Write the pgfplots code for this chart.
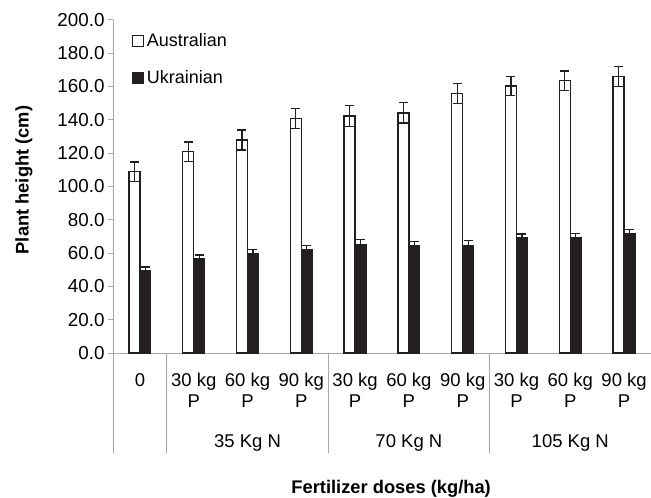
\documentclass[border=0pt]{standalone}
\usepackage{fontspec}
\setmainfont{Liberation Sans}
\usepackage{pgfplots}
\pgfplotsset{compat=1.18}
\definecolor{barblack}{HTML}{231F20}
\definecolor{axgray}{HTML}{A8A8A8}

\begin{document}
\begin{tikzpicture}
\path[use as bounding box] (-113pt,-145pt) rectangle (538pt,353pt);
\begin{axis}[
    at={(0,0)}, anchor=south west,
    scale only axis,
    width=538pt, height=333.3pt,
    xmin=-0.5, xmax=9.5,
    ymin=0, ymax=200,
    axis x line=bottom, axis y line=left,
    axis line style={-, axgray, line width=0.8pt},
    xtick=\empty,
    ytick={0,20,...,200},
    tick style={axgray, line width=0.8pt},
    major tick length=5pt,
    tick align=outside,
    tick label style={font=\fontsize{18.8}{21}\selectfont},
    yticklabel style={anchor=east},
    /pgf/number format/.cd, fixed, fixed zerofill, precision=1, assume math mode=true,
    /pgfplots/.cd,
    ybar=0pt, bar width=11pt,
    clip=false,
    legend style={at={(0,1)}, anchor=north west, xshift=19pt, yshift=-11pt,
        draw=none, fill=none, font=\fontsize{18}{21}\selectfont,
        row sep=18pt, inner sep=0pt, nodes={inner sep=2.5pt}},
    legend cell align=left,
    legend image code/.code={\draw[#1, line width=1.2pt] (0pt,-5.5pt) rectangle (11pt,5.5pt);},
]
\addplot[draw=barblack, fill=white, line width=1.5pt,
    error bars/.cd, y dir=both, y explicit,
    error bar style={barblack, line width=1.1pt},
    error mark options={rotate=90, mark size=4.5pt, barblack, line width=1.1pt}]
    table[x=x, y=y, y error=e] {
x y e
0 108.8 5.8
1 120.8 5.8
2 127.8 6.0
3 140.6 6.0
4 142.3 6.2
5 144.1 6.1
6 155.7 6.1
7 160.2 5.9
8 163.4 5.8
9 166.0 6.0
};
\addplot[draw=barblack, fill=barblack, line width=1pt,
    error bars/.cd, y dir=both, y explicit,
    error bar style={barblack, line width=1.1pt},
    error mark options={rotate=90, mark size=4.5pt, barblack, line width=1.1pt}]
    table[x=x, y=y, y error=e] {
x y e
0 49.4 2.2
1 56.6 2.2
2 60.0 2.0
3 62.0 2.4
4 65.4 2.6
5 64.4 2.6
6 64.8 2.6
7 69.2 2.2
8 69.2 2.4
9 71.6 2.4
};
\legend{Australian, Ukrainian}

% group separators
\draw[axgray, line width=0.8pt] (axis cs:-0.5,0) -- ([yshift=-100pt]axis cs:-0.5,0);
\draw[axgray, line width=0.8pt] (axis cs:0.5,0) -- ([yshift=-100pt]axis cs:0.5,0);
\draw[axgray, line width=0.8pt] (axis cs:3.5,0) -- ([yshift=-100pt]axis cs:3.5,0);
\draw[axgray, line width=0.8pt] (axis cs:6.5,0) -- ([yshift=-100pt]axis cs:6.5,0);
\draw[axgray, line width=0.8pt] (axis cs:9.5,0) -- ([yshift=-100pt]axis cs:9.5,0);

% category labels
\begin{scope}[every node/.style={anchor=base, font=\fontsize{18.5}{21}\selectfont, inner sep=0pt}]
\node[yshift=-33.4pt] at (axis cs:0,0) {0};
\node[yshift=-33.4pt] at (axis cs:1,0) {30 kg};
\node[yshift=-33.4pt] at (axis cs:2,0) {60 kg};
\node[yshift=-33.4pt] at (axis cs:3,0) {90 kg};
\node[yshift=-33.4pt] at (axis cs:4,0) {30 kg};
\node[yshift=-33.4pt] at (axis cs:5,0) {60 kg};
\node[yshift=-33.4pt] at (axis cs:6,0) {90 kg};
\node[yshift=-33.4pt] at (axis cs:7,0) {30 kg};
\node[yshift=-33.4pt] at (axis cs:8,0) {60 kg};
\node[yshift=-33.4pt] at (axis cs:9,0) {90 kg};
\pgfplotsinvokeforeach{1,...,9}{\node[yshift=-54.7pt] at (axis cs:#1,0) {P};}
\node[yshift=-94.7pt] at (axis cs:2,0) {35 Kg N};
\node[yshift=-94.7pt] at (axis cs:5,0) {70 Kg N};
\node[yshift=-94.7pt] at (axis cs:8,0) {105 Kg N};
\node[yshift=-140.7pt, font=\fontsize{18.3}{21}\selectfont\bfseries] at (axis cs:4.67,0) {Fertilizer doses (kg/ha)};
\end{scope}
\node[rotate=90, font=\fontsize{18.3}{21}\selectfont\bfseries, anchor=center]
    at ([xshift=-89pt]axis cs:-0.5,103.8) {Plant height (cm)};
\end{axis}
\end{tikzpicture}
\end{document}
